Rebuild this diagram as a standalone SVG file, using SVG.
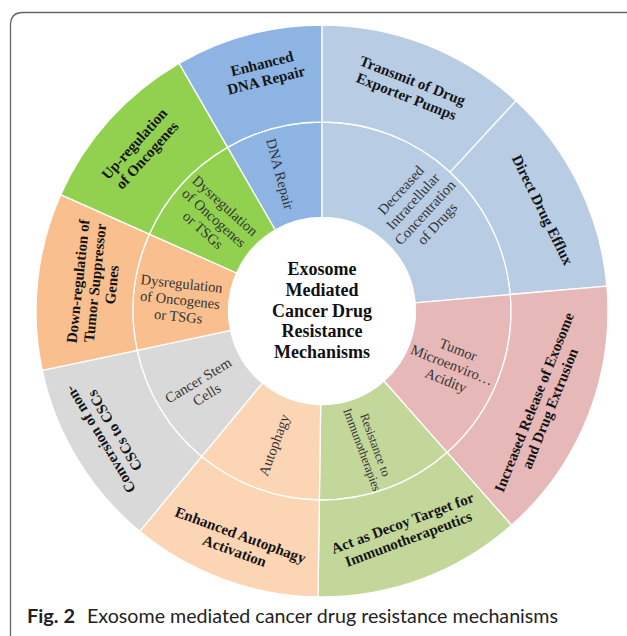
<svg xmlns="http://www.w3.org/2000/svg" width="627" height="636" viewBox="0 0 627 636">
<style>
.sec{stroke:#ffffff;stroke-width:1.3;stroke-linejoin:round}
.o{font-family:"Liberation Serif","Times New Roman",serif;font-weight:bold;font-size:15px;fill:#141414;text-anchor:middle}
.i{font-family:"Liberation Serif","Times New Roman",serif;font-size:14.5px;fill:#333333;text-anchor:middle}
.s{font-size:12.5px}
.c{font-family:"Liberation Serif","Times New Roman",serif;font-weight:bold;font-size:18px;fill:#111111;text-anchor:middle}
.blue{fill:#8DB4E2}.lblue{fill:#B8CCE4}.pink{fill:#E6B8B7}.lgreen{fill:#C4D79B}
.peach{fill:#FCD5B4}.gray{fill:#D9D9D9}.orange{fill:#FABF8F}.green{fill:#92D050}
.cap{font-family:Lato,"Open Sans",sans-serif;font-size:19px;fill:#222222}
</style>
<rect width="627" height="636" fill="#ffffff"/>
<path d="M10.5 636 L10.5 25 Q10.5 12.5 23 12.5 L627 12.5" fill="none" stroke="#666666" stroke-width="1.3"/>

<g id="node-dna-repair">
<path class="sec blue" d="M 275.25 230.03 L 227.5 147.33 A 189 189 0 0 1 322 122 L 322 217.5 A 93.5 93.5 0 0 0 275.25 230.03 Z"/>
<text class="i" transform="translate(280 174) rotate(75)"><tspan x="0" y="4.8">DNA Repair</tspan></text>
</g>
<g id="node-enhanced-dna-repair">
<path class="sec blue" d="M 227.5 147.33 L 179 63.32 A 286 286 0 0 1 322 25 L 322 122 A 189 189 0 0 0 227.5 147.33 Z"/>
<text class="o" transform="translate(264 72) rotate(-14)"><tspan x="0" y="-3.5">Enhanced</tspan><tspan x="0" y="13.5">DNA Repair</tspan></text>
</g>

<g id="node-decreased-concentration">
<path class="sec lblue" d="M 322 217.5 L 322 122 A 189 189 0 0 1 510.28 294.52 L 415.14 302.85 A 93.5 93.5 0 0 0 322 217.5 Z"/>
<text class="i" transform="translate(419 207) rotate(-47.5)"><tspan x="0" y="-19.95">Decreased</tspan><tspan x="0" y="-3.45">Intracellular</tspan><tspan x="0" y="13.05">Concentration</tspan><tspan x="0" y="29.55">of Drugs</tspan></text>
</g>
<g id="node-transmit-pumps">
<path class="sec lblue" d="M 322 122 L 322 25 A 286 286 0 0 1 515.97 100.82 L 450.18 172.10 A 189 189 0 0 0 322 122 Z"/>
<text class="o" transform="translate(409.5 88.5) rotate(21.4)"><tspan x="0" y="-3.5">Transmit of Drug</tspan><tspan x="0" y="13.5">Exporter Pumps</tspan></text>
</g>
<g id="node-direct-efflux">
<path class="sec lblue" d="M 450.18 172.10 L 515.97 100.82 A 286 286 0 0 1 606.91 286.06 L 510.28 294.52 A 189 189 0 0 0 450.18 172.10 Z"/>
<text class="o" transform="translate(542.5 210) rotate(63.9)"><tspan x="0" y="5">Direct Drug Efflux</tspan></text>
</g>

<g id="node-tumor-acidity">
<path class="sec pink" d="M 415.14 302.85 L 510.28 294.52 A 189 189 0 0 1 447.23 452.56 L 383.95 381.03 A 93.5 93.5 0 0 0 415.14 302.85 Z"/>
<text class="i" transform="translate(452 365) rotate(21.75)"><tspan x="0" y="-11.7">Tumor</tspan><tspan x="0" y="4.8">Microenviro…</tspan><tspan x="0" y="21.3">Acidity</tspan></text>
</g>
<g id="node-increased-release">
<path class="sec pink" d="M 510.28 294.52 L 606.91 286.06 A 286 286 0 0 1 511.50 525.21 L 447.23 452.56 A 189 189 0 0 0 510.28 294.52 Z"/>
<text class="o" transform="translate(542 405.5) rotate(-68.25)"><tspan x="0" y="-3.5">Increased Release of Exosome</tspan><tspan x="0" y="13.5">and Drug Extrusion</tspan></text>
</g>

<g id="node-resistance-immuno">
<path class="sec lgreen" d="M 383.95 381.03 L 447.23 452.56 A 189 189 0 0 1 319.36 499.98 L 320.69 404.49 A 93.5 93.5 0 0 0 383.95 381.03 Z"/>
<text class="i s" transform="translate(368.7 447.3) rotate(69.65)"><tspan x="0" y="-2.9">Resistance to</tspan><tspan x="0" y="11.1">Immunotherapies</tspan></text>
</g>
<g id="node-decoy-target">
<path class="sec lgreen" d="M 447.23 452.56 L 511.50 525.21 A 286 286 0 0 1 318.01 596.97 L 319.36 499.98 A 189 189 0 0 0 447.23 452.56 Z"/>
<text class="o" transform="translate(405.5 531) rotate(-20.35)"><tspan x="0" y="-3.5">Act as Decoy Target for</tspan><tspan x="0" y="13.5">Immunotherapeutics</tspan></text>
</g>

<g id="node-autophagy">
<path class="sec peach" d="M 320.69 404.49 L 319.36 499.98 A 189 189 0 0 1 201.53 456.62 L 262.40 383.04 A 93.5 93.5 0 0 0 320.69 404.49 Z"/>
<text class="i" transform="translate(274 445) rotate(-69.8)"><tspan x="0" y="4.8">Autophagy</tspan></text>
</g>
<g id="node-enhanced-autophagy">
<path class="sec peach" d="M 319.36 499.98 L 318.01 596.97 A 286 286 0 0 1 139.70 531.36 L 201.53 456.62 A 189 189 0 0 0 319.36 499.98 Z"/>
<text class="o" transform="translate(237.5 543) rotate(20.2)"><tspan x="0" y="-3.5">Enhanced Autophagy</tspan><tspan x="0" y="13.5">Activation</tspan></text>
</g>

<g id="node-cancer-stem-cells">
<path class="sec gray" d="M 262.40 383.04 L 201.53 456.62 A 189 189 0 0 1 137.14 350.29 L 230.55 330.44 A 93.5 93.5 0 0 0 262.40 383.04 Z"/>
<text class="i" transform="translate(202.5 387.5) rotate(-31.2)"><tspan x="0" y="-3.45">Cancer Stem</tspan><tspan x="0" y="13.05">Cells</tspan></text>
</g>
<g id="node-conversion-cscs">
<path class="sec gray" d="M 201.53 456.62 L 139.70 531.36 A 286 286 0 0 1 42.26 370.46 L 137.14 350.29 A 189 189 0 0 0 201.53 456.62 Z"/>
<text class="o" transform="translate(107.5 435) rotate(-121.2)"><tspan x="0" y="-3.5">Conversion of non-</tspan><tspan x="0" y="13.5">CSCs to CSCs</tspan></text>
</g>

<g id="node-dysregulation-orange">
<path class="sec orange" d="M 230.55 330.44 L 137.14 350.29 A 189 189 0 0 1 149.35 234.13 L 236.59 272.97 A 93.5 93.5 0 0 0 230.55 330.44 Z"/>
<text class="i" transform="translate(180 300) rotate(6)"><tspan x="0" y="-11.7">Dysregulation</tspan><tspan x="0" y="4.8">of Oncogenes</tspan><tspan x="0" y="21.3">or TSGs</tspan></text>
</g>
<g id="node-down-regulation">
<path class="sec orange" d="M 137.14 350.29 L 42.26 370.46 A 286 286 0 0 1 60.74 194.68 L 149.35 234.13 A 189 189 0 0 0 137.14 350.29 Z"/>
<text class="o" transform="translate(95 283) rotate(-84)"><tspan x="0" y="-12">Down-regulation of</tspan><tspan x="0" y="5">Tumor Suppressor</tspan><tspan x="0" y="22">Genes</tspan></text>
</g>

<g id="node-dysregulation-green">
<path class="sec green" d="M 236.59 272.97 L 149.35 234.13 A 189 189 0 0 1 227.5 147.33 L 275.25 230.03 A 93.5 93.5 0 0 0 236.59 272.97 Z"/>
<text class="i" transform="translate(214 218) rotate(42)"><tspan x="0" y="-11.7">Dysregulation</tspan><tspan x="0" y="4.8">of Oncogenes</tspan><tspan x="0" y="21.3">or TSGs</tspan></text>
</g>
<g id="node-up-regulation">
<path class="sec green" d="M 149.35 234.13 L 60.74 194.68 A 286 286 0 0 1 179 63.32 L 227.5 147.33 A 189 189 0 0 0 149.35 234.13 Z"/>
<text class="o" transform="translate(140.7 149.5) rotate(-48)"><tspan x="0" y="-3.5">Up-regulation</tspan><tspan x="0" y="13.5">of Oncogenes</tspan></text>
</g>

<g id="node-center">
<circle cx="322" cy="311" r="93" fill="#ffffff"/>
<text class="c"><tspan x="322" y="275.3">Exosome</tspan><tspan x="322" y="296">Mediated</tspan><tspan x="322" y="316.7">Cancer Drug</tspan><tspan x="322" y="337.4">Resistance</tspan><tspan x="322" y="358.1">Mechanisms</tspan></text>
</g>

<g id="connectors"></g>

<g id="caption">
<text class="cap" x="27" y="623" font-weight="bold" textLength="48" lengthAdjust="spacingAndGlyphs">Fig. 2</text>
<text class="cap" x="87" y="623" textLength="471" lengthAdjust="spacingAndGlyphs">Exosome mediated cancer drug resistance mechanisms</text>
</g>
</svg>
